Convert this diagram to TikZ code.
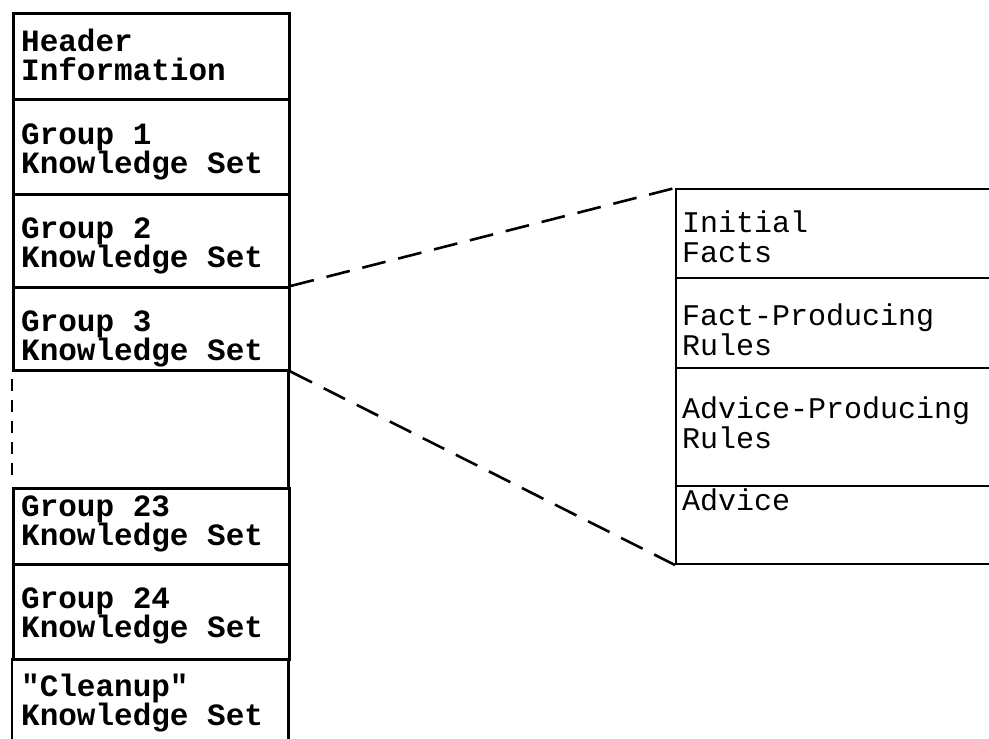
\documentclass[tikz,border=0pt]{standalone}
\usepackage{fontspec}
\setmonofont{Liberation Mono}
\newfontfamily\monobold{Liberation Mono Bold}
\begin{document}
\begin{tikzpicture}[x=1pt,y=-1pt,
  cell/.style={draw, line width=2.6pt, minimum width=276, inner sep=0pt, anchor=north west},
  blank/.style={inner sep=0pt, anchor=north west, minimum width=276},
  part/.style={draw, line width=2pt, minimum width=340, inner sep=0pt, anchor=north west},
  lefttxt/.style={anchor=base west, inner sep=0pt, align=left, font=\monobold\fontsize{31}{29}\selectfont},
  righttxt/.style={anchor=base west, inner sep=0pt, align=left, font=\ttfamily\fontsize{30}{30}\selectfont},
  conn/.style={line width=2.6pt, dash pattern=on 24pt off 13pt},
  gapline/.style={line width=2.6pt, dash pattern=on 12pt off 9pt}]
\useasboundingbox (0,0) rectangle (989,739);

% file layout: one cell per knowledge set
\node[cell, minimum height=86] (hdr) at (12,12) {};
\node[cell, minimum height=95] (g1)  at (12,98) {};
\node[cell, minimum height=93] (g2)  at (12,193) {};
\node[cell, minimum height=83] (g3)  at (12,286) {};
\node[blank, minimum height=118] (gap) at (12,369) {};
\node[cell, minimum height=76] (g23) at (12,487) {};
\node[cell, minimum height=95] (g24) at (12,563) {};
\node[blank, minimum height=90] (cln) at (12,658) {};

% sides of the omitted groups and of the last cell
\draw[line width=2.6pt] (gap.north east) -- (gap.south east);
\draw[gapline] ([yshift=-10pt]gap.north west) -- ([yshift=6pt]gap.south west);
\draw[line width=2.6pt] (cln.north west) -- (cln.south west);
\draw[line width=2.6pt] (cln.north east) -- (cln.south east);

% labels are placed by the baseline of their last line
\node[lefttxt] (thdr) at (21,80)  {Header\\Information};
\node[lefttxt] (tg1)  at (21,173) {Group 1\\Knowledge Set};
\node[lefttxt] (tg2)  at (21,267) {Group 2\\Knowledge Set};
\node[lefttxt] (tg3)  at (21,360) {Group 3\\Knowledge Set};
\node[lefttxt] (tg23) at (21,545) {Group 23\\Knowledge Set};
\node[lefttxt] (tg24) at (21,637) {Group 24\\Knowledge Set};
\node[lefttxt] (tcln) at (21,725) {"Cleanup"\\Knowledge Set};

% contents of one knowledge set
\node[part, minimum height=89]  (facts)  at (675,188) {};
\node[part, minimum height=90]  (frules) at (675,277) {};
\node[part, minimum height=118] (arules) at (675,367) {};
\node[part, minimum height=78]  (adv)    at (675,485) {};

\node[righttxt] (tfacts)  at (682,262) {Initial\\Facts};
\node[righttxt] (tfrules) at (682,355) {Fact-Producing\\Rules};
\node[righttxt] (tarules) at (682,448) {Advice-Producing\\Rules};
\node[righttxt] (tadv)    at (682,510) {Advice};

% expansion of group 3
\draw[conn] (g3.north east) -- (facts.north west);
\draw[conn] (g3.south east) -- (adv.south west);
\end{tikzpicture}
\end{document}
